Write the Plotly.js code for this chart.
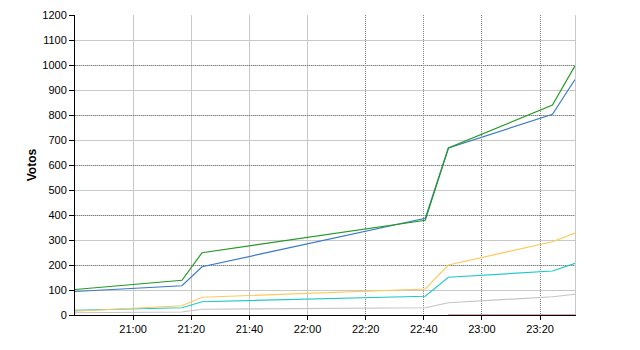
<!DOCTYPE html>
<html><head><meta charset="utf-8">
<script src="https://cdn.plot.ly/plotly-3.0.1.min.js"></script>
<style>html,body{margin:0;padding:0;background:#fff;}#chart{width:640px;height:350px;}</style>
</head><body><div id="chart"></div>
<script>
const times = ["2024-01-01 20:40:00","2024-01-01 21:16:48","2024-01-01 21:23:42","2024-01-01 22:40:30","2024-01-01 22:48:27","2024-01-01 23:24:15","2024-01-01 23:32:00"];
const seriesGreen  = [102, 139, 249, 379, 668, 840, 997];
const seriesBlue   = [94, 117, 193, 387, 668, 803, 942];
const seriesYellow = [15, 37, 71, 104, 200, 293, 328];
const seriesTeal   = [19, 29, 53, 75, 151, 176, 207];
const seriesGray   = [9, 12, 23, 29, 49, 73, 83];
const seriesRed    = [null, null, null, null, 0, 0, 0];
const xTickLabels = ["21:00","21:20","21:40","22:00","22:20","22:40","23:00","23:20"];
const xTickVals = ["2024-01-01 21:00","2024-01-01 21:20","2024-01-01 21:40","2024-01-01 22:00","2024-01-01 22:20","2024-01-01 22:40","2024-01-01 23:00","2024-01-01 23:20"];
const xRange = ["2024-01-01 20:40","2024-01-01 23:32"];
const yRange = [0, 1200];
const yTitle = "Votos";

function tr(y, color){ return {x: times, y: y, type:'scatter', mode:'lines', line:{color:color, width:1.2}, hoverinfo:'skip', showlegend:false}; }
const data = [
  tr(seriesGray, '#c4c4c4'),
  tr(seriesRed, '#c8407a'),
  tr(seriesTeal, '#22c8c8'),
  tr(seriesYellow, '#ffc85a'),
  tr(seriesBlue, '#3a7ac8'),
  tr(seriesGreen, '#239a23'),
  {x:[null], y:[null], xaxis:'x2', yaxis:'y2', type:'scatter', showlegend:false, hoverinfo:'skip'},
  {x:[null], y:[null], xaxis:'x3', yaxis:'y2', type:'scatter', showlegend:false, hoverinfo:'skip'}
];
const font = {family:'"Liberation Sans", Arial, sans-serif', size:11, color:'#000'};
const layout = {
  width:640, height:350,
  margin:{l:75, r:65, t:15, b:35},
  paper_bgcolor:'#fff', plot_bgcolor:'#fff',
  font: font,
  showlegend:false,
  xaxis:{type:'date', range:xRange, tickvals:xTickVals, ticktext:xTickLabels,
    showgrid:false, zeroline:false, showline:true, linecolor:'#000', linewidth:1,
    ticks:'outside', ticklen:4, tickcolor:'#000', tickfont:font, layer:'above traces'},
  xaxis2:{type:'date', overlaying:'x', range:xRange, tickvals:xTickVals.slice(0,4),
    showticklabels:false, showgrid:true, gridcolor:'#c8c8c8', gridwidth:1, zeroline:false, showline:false, ticks:''},
  xaxis3:{type:'date', overlaying:'x', range:xRange, tickvals:xTickVals.slice(4),
    showticklabels:false, showgrid:true, gridcolor:'#808080', griddash:'1px,1px', gridwidth:1, zeroline:false, showline:false, ticks:''},
  yaxis:{range:yRange, dtick:100, tick0:0, showgrid:true, gridcolor:'#c8c8c8', gridwidth:1,
    zeroline:false, showline:true, linecolor:'#000', linewidth:1, ticks:'outside', ticklen:5, tickcolor:'#000',
    tickfont:font, title:{text:yTitle, font:{family:'"Liberation Sans", Arial, sans-serif', size:12, color:'#000', weight:'bold'}, standoff:3}, layer:'above traces'},
  yaxis2:{overlaying:'y', side:'right', range:yRange, dtick:200, tick0:0, showgrid:true, gridcolor:'#808080', griddash:'1px,1px', gridwidth:1,
    zeroline:false, showline:true, linecolor:'#c8c8c8', linewidth:1, showticklabels:false, ticks:''}
};
Plotly.newPlot('chart', data, layout, {staticPlot:true, displayModeBar:false});
</script></body></html>
